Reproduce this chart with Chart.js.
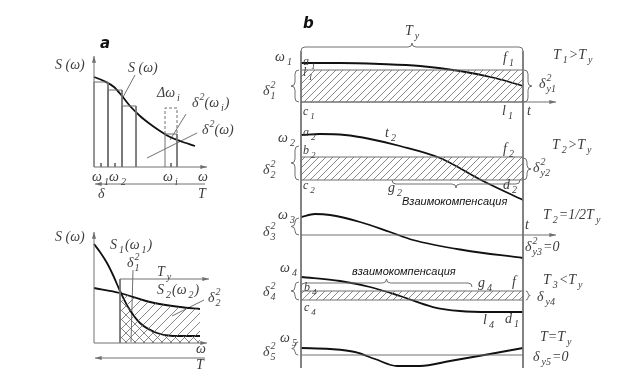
<!DOCTYPE html>
<html>
<head>
<meta charset="utf-8">
<script src="https://cdn.jsdelivr.net/npm/chart.js@4.4.1/dist/chart.umd.min.js"></script>
<style>
  html, body { margin: 0; padding: 0; background: #fff; }
  canvas { display: block; }
</style>
</head>
<body>
<canvas id="diagram" width="617" height="384"></canvas>
<script>
// --- values (drawing units, y grows downward) ---

// panel a, top: spectrum S(w) and its histogram
const curveS = [[94,77],[104,81],[114,87],[122,96],[130,106],[140,116],[150,124],[160,131],[170,137],[180,141],[195,146]];
const barEdges = [94, 108, 122, 136];
const barTops = [82, 90, 106];
const barI = [165, 177];        // w_i band
const barITop = 134;
const barIDashTop = 108;
const axisA1 = 167;

// panel a, bottom: two spectra S1, S2
const curveS1 = [[94,244],[100,252],[107,263],[113,275],[120,291],[128,307],[140,323],[157,333],[173,336],[200,336]];
const curveS2 = [[94,288],[120,293],[150,302],[180,307],[200,309]];
const cutTy = 120;
const levelTy = 279;
const axisA2 = 343;

// panel b: error traces for five cases
const trace1 = [[301,63],[340,63],[380,64],[420,66],[460,71],[495,78],[523,86]];
const trace2 = [[301,135],[320,134],[345,135],[370,139],[400,146],[440,158],[483,181],[523,200]];
const trace3 = [[301,217],[315,214],[330,215],[360,222],[390,232],[413,240],[463,250],[523,258]];
const trace4 = [[301,277],[340,281],[370,287],[400,296],[433,307],[460,311],[490,312],[523,312]];
const trace5 = [[301,348],[330,349],[355,352],[375,359],[397,366],[420,366],[450,361],[490,354],[523,348]];
const bandTops = [70, 157, 291];
const bandBottoms = [102, 180, 300];
const tStart = 301, tEnd = 523;
const axisT = [102, 235];
const base5 = 355;

// text labels: [text, x, y, style]
const labels = [
  ['a', 100, 44, 'head'],
  ['S (ω)', 55, 65], ['S (ω)', 128, 68], ['Δω_i', 157, 93],
  ['δ^2(ω_i)', 192, 103], ['δ^2(ω)', 202, 130],
  ['ω_1', 92, 177], ['ω_2', 109, 177], ['ω_i', 163, 177], ['ω', 198, 177],
  ['δ', 98, 194], ['T', 198, 194],
  ['S (ω)', 55, 237], ['S_1(ω_1)', 110, 245], ['δ^2_1', 127, 263], ['T_y', 157, 272],
  ['S_2(ω_2)', 157, 290], ['δ^2_2', 208, 298], ['ω', 196, 349], ['T', 196, 365],
  ['b', 303, 24, 'head'], ['T_y', 405, 31],
  ['ω_1', 275, 57], ['a_1', 303, 62, 'small'], ['l_1', 303, 73, 'small'], ['δ^2_1', 263, 91],
  ['c_1', 303, 112, 'small'], ['f_1', 503, 58], ['l_1', 502, 111], ['t', 527, 111],
  ['T_1>T_y', 553, 55], ['δ^2_{y1}', 539, 84],
  ['ω_2', 278, 138], ['a_2', 303, 133, 'small'], ['t_2', 385, 133], ['b_2', 303, 151, 'small'],
  ['f_2', 503, 149], ['δ^2_2', 263, 170], ['δ^2_{y2}', 533, 168], ['c_2', 303, 186, 'small'],
  ['g_2', 388, 188], ['d_2', 503, 185], ['T_2>T_y', 552, 145],
  ['Взаимокомпенсация', 402, 202, 'sans'],
  ['ω_3', 278, 215], ['δ^2_3', 263, 232], ['t', 525, 225],
  ['T_2=1/2T_y', 543, 215], ['δ^2_{y3}=0', 525, 247],
  ['ω_4', 280, 268], ['взаимокомпенсация', 352, 272, 'sans'], ['g_4', 478, 283], ['f', 512, 282],
  ['b_4', 304, 288, 'small'], ['δ^2_4', 263, 292], ['c_4', 304, 308, 'small'], ['δ_{y4}', 537, 297],
  ['T_3<T_y', 543, 280], ['l_4', 483, 320], ['d_1', 505, 319],
  ['ω_5', 280, 338], ['δ^2_5', 263, 352], ['T=T_y', 540, 337], ['δ_{y5}=0', 533, 357]
];

// braces: [x1, y1, x2, y2, tip direction x, tip direction y]
const braces = [
  [301,47, 523,47, 0,-1],
  [295,70, 295,102, -1,0], [528,70, 528,102, 1,0],
  [295,146, 295,180, -1,0], [527,158, 527,180, 1,0],
  [392,184, 520,184, 0,1],
  [295,218, 295,235, -1,0],
  [301,283, 472,283, 0,-1],
  [295,282, 295,300, -1,0], [528,291, 528,300, 1,0],
  [295,342, 295,355, -1,0]
];

// arrows: [x1, y1, x2, y2], head at the second point
const arrows = [
  [94,axisA1, 94,56], [94,axisA1, 207,axisA1], [205,184, 95,184],
  [94,axisA2, 94,232], [94,axisA2, 207,axisA2], [cutTy,levelTy, 209,levelTy], [205,358, 95,358],
  [tStart,axisT[0], 556,axisT[0]], [tStart,axisT[1], 556,axisT[1]]
];

const INK = '#111';
const GRAY = '#707070';

const canvas = document.getElementById('diagram');
const ctx = canvas.getContext('2d');

function hatch(dir, s) {
  const c = document.createElement('canvas');
  c.width = s; c.height = s;
  const g = c.getContext('2d');
  g.strokeStyle = '#6a6a6a';
  g.lineWidth = 0.8;
  g.beginPath();
  if (dir > 0) {
    g.moveTo(-1, s + 1); g.lineTo(s + 1, -1);
    g.moveTo(-2, 2); g.lineTo(2, -2);
    g.moveTo(s - 2, s + 2); g.lineTo(s + 2, s - 2);
  } else {
    g.moveTo(-1, -1); g.lineTo(s + 1, s + 1);
    g.moveTo(-2, s - 2); g.lineTo(2, s + 2);
    g.moveTo(s - 2, -2); g.lineTo(s + 2, 2);
  }
  g.stroke();
  return ctx.createPattern(c, 'repeat');
}
const hatchBand = hatch(1, 7);
const hatchFwd = hatch(1, 9);
const hatchBack = hatch(-1, 9);

const pts = arr => arr.map(p => ({ x: p[0], y: p[1] }));

function line(arr, opts) {
  return Object.assign({
    data: pts(arr), showLine: true, pointRadius: 0, borderColor: GRAY,
    borderWidth: 1, fill: false, tension: 0, clip: false
  }, opts || {});
}
function curve(arr, opts) {
  return line(arr, Object.assign({ borderColor: INK, borderWidth: 1.8, cubicInterpolationMode: 'monotone' }, opts || {}));
}

const datasets = [];

// panel a top: histogram bars
barTops.forEach((top, i) => {
  const x0 = barEdges[i], x1 = barEdges[i + 1];
  datasets.push(line([[x0, axisA1], [x0, top], [x1, top], [x1, axisA1]]));
});
datasets.push(line([[barI[0], axisA1], [barI[0], barITop], [barI[1], barITop], [barI[1], axisA1]]));
datasets.push(line([[barI[0], barITop], [barI[0], barIDashTop], [barI[1], barIDashTop], [barI[1], barITop]], { borderDash: [3, 2] }));
datasets.push(curve(curveS));
// leaders
datasets.push(line([[135, 75], [122, 99]]));
datasets.push(line([[186, 114], [170, 140]]));
datasets.push(line([[197, 133], [147, 158]]));
// ticks
[101, 115, 171].forEach(x => datasets.push(line([[x, axisA1 - 4], [x, axisA1]])));

// panel a bottom: hatched areas, spectra
datasets.push(curve(curveS2.filter(p => p[0] >= cutTy), { borderWidth: 0, borderColor: 'rgba(0,0,0,0)', fill: { value: axisA2 }, backgroundColor: hatchFwd }));
datasets.push(curve(curveS1.filter(p => p[0] >= cutTy), { borderWidth: 0, borderColor: 'rgba(0,0,0,0)', fill: { value: axisA2 }, backgroundColor: hatchBack }));
datasets.push(line([[cutTy, levelTy], [cutTy, axisA2]]));
datasets.push(curve(curveS1));
datasets.push(curve(curveS2));
datasets.push(line([[133, 270], [131, 342]]));
datasets.push(line([[204, 300], [172, 316]]));

// panel b: bands, frame, traces
bandTops.forEach((top, i) => {
  datasets.push(line([[tStart, top], [tEnd, top]], { fill: { value: bandBottoms[i] }, backgroundColor: hatchBand }));
  datasets.push(line([[tStart, bandBottoms[i]], [tEnd, bandBottoms[i]]]));
});
datasets.push(line([[tStart, base5], [tEnd, base5]]));
datasets.push(line([[tStart, 51], [tStart, 368]]));
datasets.push(line([[tEnd, 51], [tEnd, 368]]));
[trace1, trace2, trace3, trace4, trace5].forEach(t => datasets.push(curve(t)));

function drawRich(c, text, x, y, style) {
  let size = 14, family = "'Liberation Serif', serif", weight = '', slant = 'italic ', color = '#3c3c3c';
  if (style === 'small') size = 12;
  if (style === 'sans') { size = 11; family = "'Liberation Sans', sans-serif"; color = '#111'; }
  if (style === 'head') { size = 15; family = "'DejaVu Sans', sans-serif"; weight = 'bold '; color = '#111'; }
  const subSize = Math.round(size * 0.72);
  c.fillStyle = color;
  c.textBaseline = 'middle';
  let cx = x, i = 0, supX = null, supW = 0;
  const take = () => {
    if (text[i] === '{') {
      const j = text.indexOf('}', i);
      const s = text.slice(i + 1, j); i = j + 1; return s;
    }
    return text[i++];
  };
  while (i < text.length) {
    const ch = text[i];
    if (ch === '^') {
      i++;
      const s = take();
      c.font = slant + weight + subSize + 'px ' + family;
      supX = cx + 1; supW = c.measureText(s).width;
      c.fillText(s, supX, y - size * 0.42);
      cx = supX + supW;
    } else if (ch === '_') {
      i++;
      const s = take();
      c.font = slant + weight + subSize + 'px ' + family;
      const w = c.measureText(s).width;
      const sx = supX !== null ? supX : cx + 2;
      c.fillText(s, sx, y + size * 0.38);
      cx = Math.max(cx, sx + w) + 1;
      supX = null;
    } else {
      i++;
      c.font = slant + weight + size + 'px ' + family;
      c.fillText(ch, cx, y);
      cx += c.measureText(ch).width;
      supX = null;
    }
  }
}

const decor = {
  id: 'decor',
  afterDatasetsDraw(chart) {
    const c = chart.ctx;
    const sx = chart.scales.x, sy = chart.scales.y;
    const px = v => sx.getPixelForValue(v);
    const py = v => sy.getPixelForValue(v);
    c.save();
    c.strokeStyle = GRAY;
    c.fillStyle = GRAY;
    c.lineWidth = 1;
    arrows.forEach(a => {
      const x1 = px(a[0]), y1 = py(a[1]), x2 = px(a[2]), y2 = py(a[3]);
      c.beginPath(); c.moveTo(x1, y1); c.lineTo(x2, y2); c.stroke();
      const ang = Math.atan2(y2 - y1, x2 - x1);
      c.beginPath();
      c.moveTo(x2, y2);
      c.lineTo(x2 - 7 * Math.cos(ang - 0.3), y2 - 7 * Math.sin(ang - 0.3));
      c.lineTo(x2 - 7 * Math.cos(ang + 0.3), y2 - 7 * Math.sin(ang + 0.3));
      c.closePath(); c.fill();
    });
    braces.forEach(b => {
      const x1 = px(b[0]), y1 = py(b[1]), x2 = px(b[2]), y2 = py(b[3]);
      const L = Math.hypot(x2 - x1, y2 - y1);
      const ux = (x2 - x1) / L, uy = (y2 - y1) / L;
      const nx = b[4], ny = b[5];
      const d = Math.min(4, L / 4);
      const p = (s, t) => [x1 + ux * s + nx * t, y1 + uy * s + ny * t];
      c.beginPath();
      c.moveTo(...p(0, -d));
      c.quadraticCurveTo(...p(0, 0), ...p(d, 0));
      c.lineTo(...p(L / 2 - d, 0));
      c.quadraticCurveTo(...p(L / 2, 0), ...p(L / 2, d));
      c.quadraticCurveTo(...p(L / 2, 0), ...p(L / 2 + d, 0));
      c.lineTo(...p(L - d, 0));
      c.quadraticCurveTo(...p(L, 0), ...p(L, -d));
      c.stroke();
    });
    labels.forEach(l => drawRich(c, l[0], px(l[1]), py(l[2]), l[3]));
    c.restore();
  }
};

new Chart(ctx, {
  type: 'scatter',
  data: { datasets },
  options: {
    responsive: false,
    animation: false,
    events: [],
    layout: { padding: 0 },
    plugins: { legend: { display: false }, tooltip: { enabled: false } },
    scales: {
      x: { type: 'linear', min: 0, max: 617, display: false },
      y: { type: 'linear', min: 0, max: 384, reverse: true, display: false }
    }
  },
  plugins: [decor]
});
</script>
</body>
</html>
